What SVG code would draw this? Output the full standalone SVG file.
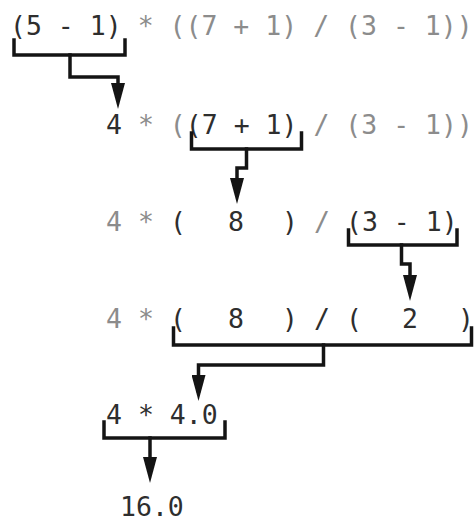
<svg xmlns="http://www.w3.org/2000/svg" width="475" height="523" viewBox="0 0 475 523">
<style>
text{font-family:"DejaVu Sans Mono","Liberation Mono",monospace;font-size:26.5px;fill:#8c8c8c;white-space:pre}
.d{fill:#2e2e2e}
.c{fill:none;stroke:#141414;stroke-width:3.5;stroke-linejoin:miter;stroke-linecap:square}
</style>
<defs>
<marker id="ah" viewBox="0 0 26 14" refX="16" refY="7" markerWidth="26" markerHeight="14" markerUnits="userSpaceOnUse" orient="auto">
<path d="M0 0 L26 7 L0 14 Z" fill="#141414"/>
</marker>
</defs>
<rect width="475" height="523" fill="#ffffff"/>
<g id="line1"><text x="10" y="35" xml:space="preserve"><tspan class="d">(5 - 1)</tspan> * ((7 + 1) / (3 - 1))</text></g>
<g id="line2"><text x="106" y="134" xml:space="preserve"><tspan class="d">4</tspan> * (<tspan class="d">(7 + 1)</tspan> / (3 - 1))</text></g>
<g id="line3">
<text x="106" y="231" xml:space="preserve">4 * </text>
<text class="d" x="170" y="231">(</text>
<text class="d" x="228" y="231">8</text>
<text class="d" x="282" y="231">)</text>
<text x="314" y="231">/</text>
<text class="d" x="346" y="231" xml:space="preserve">(3 - 1)</text>
</g>
<g id="line4">
<text x="106" y="328" xml:space="preserve">4 * </text>
<text class="d" x="170" y="328">(</text>
<text class="d" x="228" y="328">8</text>
<text class="d" x="282" y="328">)</text>
<text class="d" x="314" y="328">/</text>
<text class="d" x="346" y="328">(</text>
<text class="d" x="402" y="328">2</text>
<text class="d" x="458" y="328">)</text>
</g>
<g id="line5"><text class="d" x="106" y="424" xml:space="preserve">4 * 4.0</text></g>
<g id="line6"><text class="d" x="120" y="516">16.0</text></g>
<g id="connectors">
<path class="c" d="M14 40 V55 H125 V40"/>
<path class="c" d="M70 55 V77 H118 V99" marker-end="url(#ah)"/>
<path class="c" d="M191.5 133 V149 H301.5 V133"/>
<path class="c" d="M246.5 149 V168 H237 V194" marker-end="url(#ah)"/>
<path class="c" d="M348.5 230 V245 H457 V230"/>
<path class="c" d="M401.5 245 V264 H410 V291" marker-end="url(#ah)"/>
<path class="c" d="M173.5 328 V345 H471.5 V328"/>
<path class="c" d="M323.5 345 V365 H198.5 V391" marker-end="url(#ah)"/>
<path class="c" d="M104 422 V438 H225 V422"/>
<path class="c" d="M150 438 V473" marker-end="url(#ah)"/>
</g>
</svg>
